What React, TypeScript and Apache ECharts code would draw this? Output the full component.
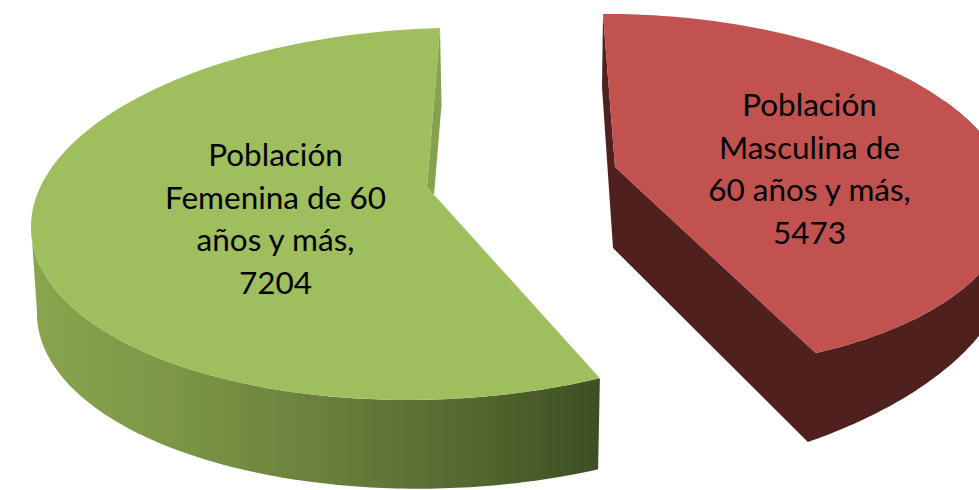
import React, { useEffect, useRef } from "react";
import * as echarts from "echarts";

const categories = ["Población Femenina de 60 años y más", "Población Masculina de 60 años y más"];
const values = [7204, 5473];
const labelLines = [
  ["Población", "Femenina de 60", "años y más,"],
  ["Población", "Masculina de", "60 años y más,"],
];

type V = [number, number];
const rad = (d: number) => (d * Math.PI) / 180;
const ell = (e: { c: V; u: V; v: V }, t: number): V => [
  e.c[0] + e.u[0] * Math.cos(rad(t)) + e.v[0] * Math.sin(rad(t)),
  e.c[1] + e.u[1] * Math.cos(rad(t)) + e.v[1] * Math.sin(rad(t)),
];
const arc = (e: { c: V; u: V; v: V }, a: number, b: number): V[] => {
  const n = 120;
  const out: V[] = [];
  for (let i = 0; i <= n; i++) out.push(ell(e, a + ((b - a) * i) / n));
  return out;
};

// Projection of each slice's top and bottom rim
const green = {
  top: { c: [435.6, 213.8] as V, u: [404.6, -11] as V, v: [4.4, -185.8] as V },
  bottom: { c: [435.9, 305] as V, u: [398.9, -6.4] as V, v: [4.1, -183.6] as V },
  apex: [427, 187] as V,
  dir: 1,
};
const red = {
  top: { c: [632.1, 192] as V, u: [377.9, -2] as V, v: [-29.1, -178] as V },
  bottom: { c: [625, 288.6] as V, u: [385, -43.6] as V, v: [-25, -188.6] as V },
  apex: [615, 167] as V,
  dir: -1,
};

const total = values.reduce((a, b) => a + b, 0);

function renderItem(params: any, api: any) {
  const i = params.dataIndex;
  const value = api.value(0) as number;
  const sweep = (value / total) * 360;
  const textStyle = {
    fill: "#000",
    font: "31.5px Lato",
    align: "center",
    verticalAlign: "middle",
    lineHeight: 42.5,
  };
  if (i === 0) {
    const endT = 90 + sweep * green.dir;
    const start = ell(green.top, 90);
    return {
      type: "group",
      children: [
        {
          type: "polygon",
          shape: { points: [...arc(green.top, 180, endT), ...arc(green.bottom, endT, 180)] },
          style: {
            fill: new echarts.graphic.LinearGradient(0, 0, 1, 0, [
              { offset: 0, color: "#89a54e" },
              { offset: 0.25, color: "#7c9646" },
              { offset: 0.5, color: "#6b813c" },
              { offset: 0.75, color: "#566a30" },
              { offset: 1, color: "#3d4f22" },
            ]),
          },
        },
        {
          type: "polygon",
          shape: { points: [start, [start[0] + 1.5, start[1] + 77], [434, 195], green.apex] },
          style: { fill: "#87a24d" },
        },
        {
          type: "polygon",
          shape: { points: [...arc(green.top, 90, endT), green.apex] },
          style: { fill: "#9fbf5e" },
        },
        {
          type: "text",
          style: { ...textStyle, x: 275.5, y: 218, text: [...labelLines[0], String(value)].join("\n") },
        },
      ],
    };
  }
  const endT = 90 + sweep * red.dir;
  const start = ell(red.top, 90);
  return {
    type: "group",
    children: [
      {
        type: "polygon",
        shape: {
          points: [
            start,
            [start[0] - 1, start[1] + 73],
            [start[0] + 10, start[1] + 234],
            ...arc(red.bottom, endT, 30),
            ...arc(red.top, 30, endT),
            red.apex,
          ],
        },
        style: { fill: "#4f201e" },
      },
      {
        type: "polygon",
        shape: { points: [...arc(red.top, 90, endT), red.apex] },
        style: { fill: "#c25250" },
      },
      {
        type: "text",
        style: { ...textStyle, x: 809.5, y: 168, text: [...labelLines[1], String(value)].join("\n") },
      },
    ],
  };
}

export default function App() {
  const ref = useRef<HTMLDivElement>(null);
  useEffect(() => {
    const chart = echarts.init(ref.current!, undefined, { renderer: "svg" });
    chart.setOption({
      animation: false,
      backgroundColor: "#fff",
      series: [
        {
          type: "custom",
          coordinateSystem: "none",
          renderItem,
          clip: false,
          encode: { value: 0 },
          data: categories.map((name, i) => ({ name, value: [values[i]] })),
        },
      ],
    });
    return () => chart.dispose();
  }, []);
  return (
    <div
      ref={ref}
      style={{ position: "fixed", left: 0, top: 0, width: 979, height: 490, overflow: "hidden" }}
    />
  );
}
